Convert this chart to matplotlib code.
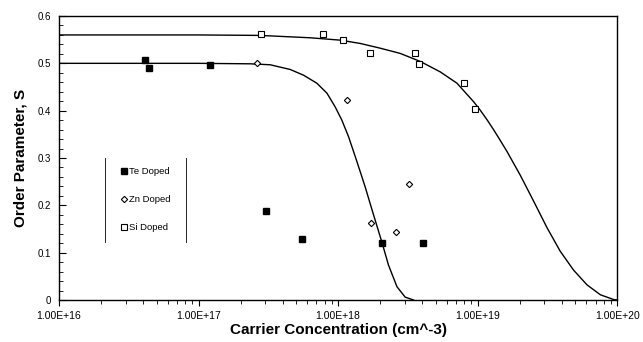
import matplotlib
matplotlib.use('Agg')
import matplotlib.pyplot as plt
from matplotlib.ticker import FixedLocator, LogLocator, MultipleLocator, FuncFormatter, NullFormatter
import numpy as np

plt.rcParams['font.family'] = ['Liberation Sans', 'DejaVu Sans']

# measured points
te_x = [4.1e16, 4.4e16, 1.21e17, 3.03e17, 5.55e17, 2.08e18, 4.05e18]
te_s = [0.507, 0.491, 0.496, 0.188, 0.128, 0.120, 0.120]

zn_x = [2.64e17, 1.15e18, 1.73e18, 2.58e18, 3.21e18]
zn_s = [0.501, 0.423, 0.163, 0.143, 0.246]

si_x = [2.82e17, 7.77e17, 1.09e18, 1.68e18, 3.57e18, 3.81e18, 7.96e18, 9.55e18]
si_s = [0.561, 0.563, 0.549, 0.522, 0.522, 0.498, 0.459, 0.404]

# fitted curves, x as log10 of concentration
low_logx = [16.0, 17.0, 17.370, 17.513, 17.657, 17.752, 17.848, 17.920, 17.979,
            18.027, 18.075, 18.123, 18.171, 18.194, 18.254, 18.314, 18.361,
            18.422, 18.481, 18.541]
low_s = [0.500, 0.500, 0.499, 0.497, 0.487, 0.475, 0.458, 0.437, 0.408,
         0.380, 0.345, 0.303, 0.260, 0.239, 0.180, 0.122, 0.074,
         0.028, 0.006, 0.0]

up_logx = [16.0, 17.0, 17.44, 17.80, 18.015, 18.159, 18.302, 18.445, 18.589,
           18.732, 18.852, 18.971, 19.019, 19.067, 19.114, 19.150, 19.210,
           19.305, 19.401, 19.497, 19.592, 19.688, 19.784, 19.880, 19.975, 20.0]
up_s = [0.560, 0.560, 0.559, 0.554, 0.549, 0.542, 0.532, 0.521, 0.504,
        0.482, 0.458, 0.419, 0.401, 0.381, 0.360, 0.343, 0.314,
        0.264, 0.209, 0.153, 0.103, 0.063, 0.032, 0.011, 0.001, 0.0]

fig = plt.figure(figsize=(6.43, 3.42), dpi=100)
ax = fig.add_axes([0.0918, 0.1228, 0.868, 0.8304])

ax.plot(10 ** np.array(low_logx), low_s, color='black', lw=1.0)
ax.plot(10 ** np.array(up_logx), up_s, color='black', lw=1.0)

ax.plot(te_x, te_s, 's', color='black', ms=4.5, label='Te Doped')
ax.plot(zn_x, zn_s, 'D', mfc='white', mec='black', mew=0.8, ms=3.2, label='Zn Doped')
ax.plot(si_x, si_s, 's', mfc='white', mec='black', mew=0.8, ms=4.5, label='Si Doped')

ax.set_xscale('log')
ax.set_xlim(1e16, 1e20)
ax.set_ylim(0, 0.6)

ax.xaxis.set_major_locator(FixedLocator([1e16, 1e17, 1e18, 1e19, 1e20]))
ax.xaxis.set_minor_locator(LogLocator(base=10, subs=np.arange(2, 10)))
ax.xaxis.set_minor_formatter(NullFormatter())
ax.xaxis.set_major_formatter(FuncFormatter(lambda v, p: '1.00E+%d' % round(np.log10(v))))
ax.yaxis.set_major_locator(MultipleLocator(0.1))
ax.yaxis.set_minor_locator(MultipleLocator(0.02))
ax.yaxis.set_major_formatter(FuncFormatter(lambda v, p: '0' if abs(v) < 1e-9 else '%g' % round(v, 1)))

ax.tick_params(axis='x', which='major', direction='out', length=4, width=0.8, labelsize=7.5, pad=4)
ax.tick_params(axis='x', which='minor', direction='out', length=3, width=0.6)
ax.tick_params(axis='y', which='major', direction='in', length=5, width=0.8, labelsize=7, pad=6)
ax.tick_params(axis='y', which='minor', direction='in', length=3, width=0.6)

for s in ax.spines.values():
    s.set_linewidth(1.0)

ax.set_xlabel('Carrier Concentration (cm^-3)', fontsize=11, fontweight='bold', labelpad=1)
ax.set_ylabel('Order Parameter, S', fontsize=11, fontweight='bold', labelpad=7)

leg = ax.legend(loc='center', bbox_to_anchor=(0.155, 0.354), frameon=False, fontsize=6.8,
                handlelength=0.6, handletextpad=0.2, labelspacing=2.0, borderaxespad=0)
# vertical side lines of the legend box
ax.plot([0.082, 0.082], [0.204, 0.50], color='black', lw=0.6, transform=ax.transAxes)
ax.plot([0.228, 0.228], [0.204, 0.50], color='black', lw=0.6, transform=ax.transAxes)

fig.savefig('out.png', dpi=100)
